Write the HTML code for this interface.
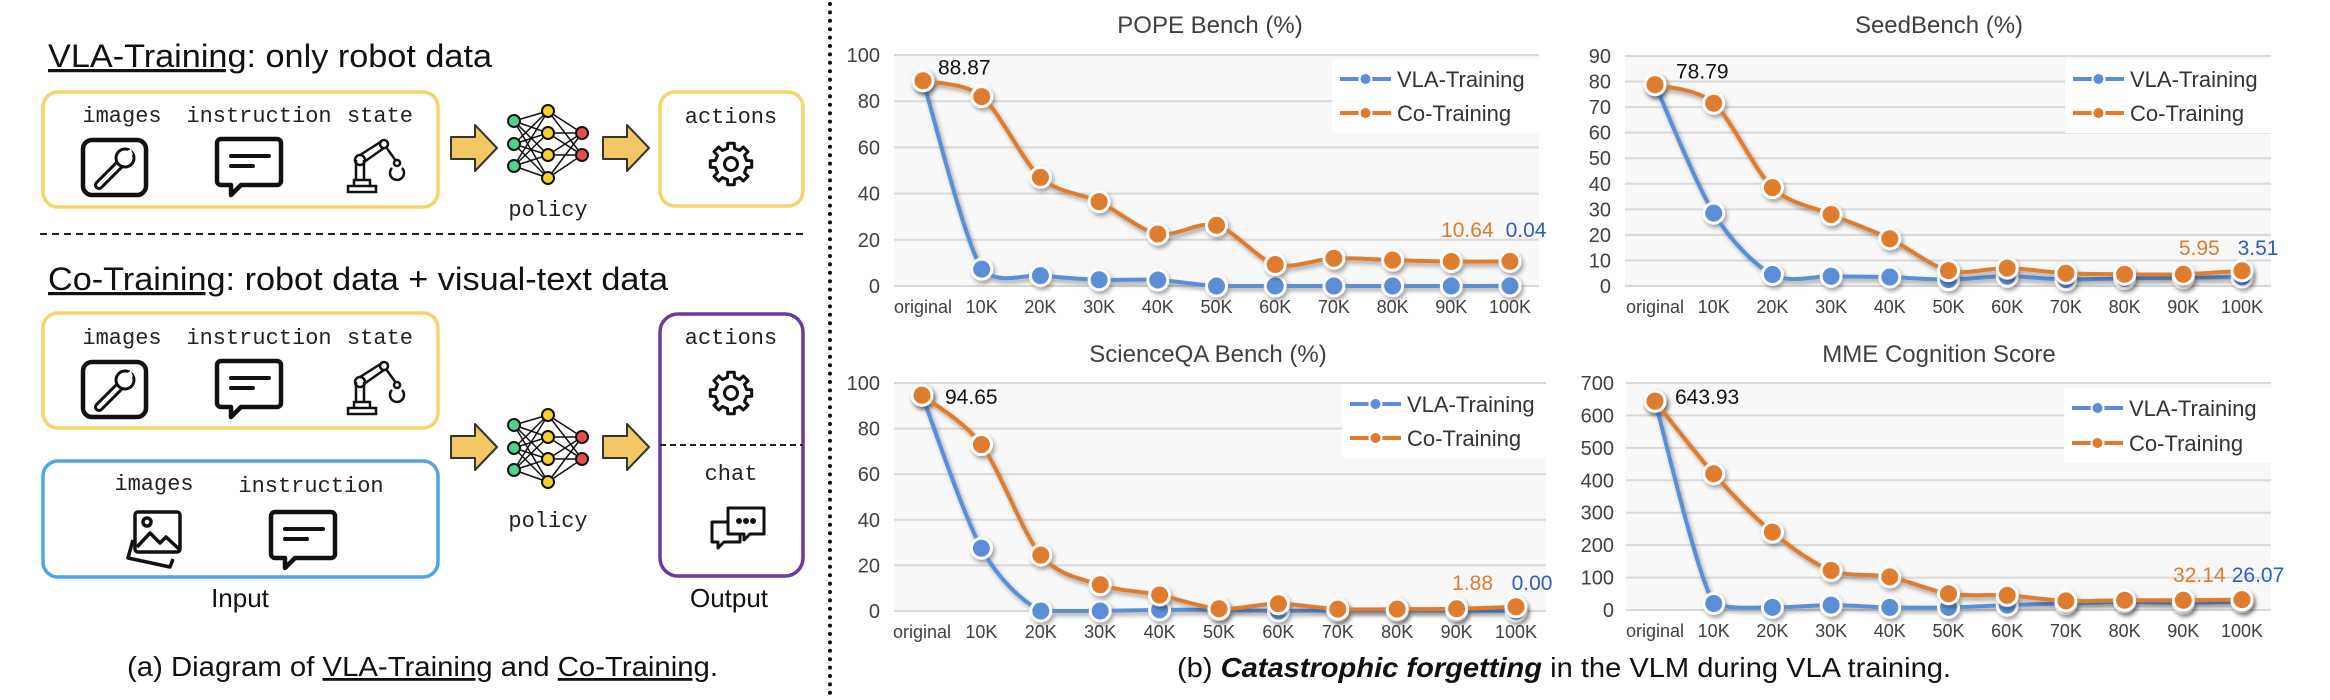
<!DOCTYPE html>
<html><head><meta charset="utf-8"><style>
html,body{margin:0;padding:0;background:#fff;}
svg{display:block;}
.mono{font-family:"Liberation Mono",monospace;font-size:22px;fill:#222;}
.sans{font-family:"Liberation Sans",sans-serif;}
</style></head><body>
<svg id="fig" width="2330" height="700" viewBox="0 0 2330 700" xmlns="http://www.w3.org/2000/svg">
<defs>
<filter id="sh" x="-10%" y="-10%" width="130%" height="130%"><feDropShadow dx="2" dy="3" stdDeviation="2" flood-color="#000" flood-opacity="0.35"/></filter>
<g id="wrench"><rect x="2" y="2" width="63" height="55" rx="9" fill="#fff" stroke="#111" stroke-width="4.5"/>
<path d="M18,47 L40,25" stroke="#111" stroke-width="10" stroke-linecap="round"/><path d="M18,47 L40,25" stroke="#fff" stroke-width="4" stroke-linecap="round"/>
<circle cx="44" cy="20" r="9" fill="#fff" stroke="#111" stroke-width="3"/><path d="M44,14 l6,-3 l2,6 z" fill="#fff"/></g>
<g id="chatb"><path d="M5,2 h56 a4,4 0 0 1 4,4 v38 a4,4 0 0 1 -4,4 h-36 l-10,10 v-10 h-10 a4,4 0 0 1 -4,-4 v-38 a4,4 0 0 1 4,-4 z" fill="#fff" stroke="#111" stroke-width="4.5" stroke-linejoin="round"/>
<path d="M15,19 h38 M15,29 h22" stroke="#111" stroke-width="4" stroke-linecap="round"/></g>
<g id="robot" fill="none" stroke="#111" stroke-width="2.5"><rect x="2" y="50" width="28" height="6"/><path d="M8,50 v-6 h16 v6"/><path d="M10,44 L10,24 M18,44 L18,24"/><circle cx="14" cy="24" r="5"/><path d="M14,19 L36,5 M18,26 L38,12"/><circle cx="38" cy="8" r="4"/><path d="M40,11 L50,25"/><circle cx="51" cy="27" r="3"/><path d="M46,32 a7,7 0 1 0 10,0"/></g>
</defs>

<g>
<text class="sans" x="48" y="67" font-size="32" textLength="444" lengthAdjust="spacingAndGlyphs" fill="#111"><tspan text-decoration="underline">VLA-Training</tspan>: only robot data</text>
<rect x="43" y="92" width="395" height="115" rx="15" fill="#fff" stroke="#F5D46A" stroke-width="3.5"/>
<text class="mono" x="122" y="122" text-anchor="middle">images</text>
<text class="mono" x="259" y="122" text-anchor="middle">instruction</text>
<text class="mono" x="380" y="122" text-anchor="middle">state</text>
<use href="#wrench" x="81" y="138"/>
<use href="#chatb" x="216" y="137"/>
<use href="#robot" x="346" y="136"/>

<rect x="660" y="92" width="143" height="114" rx="15" fill="#fff" stroke="#F5D46A" stroke-width="3.5"/>
<text class="mono" x="731" y="123" text-anchor="middle">actions</text>
<text class="mono" x="548" y="216" text-anchor="middle">policy</text>

<line x1="40" y1="234" x2="806" y2="234" stroke="#222" stroke-width="2" stroke-dasharray="7 5"/>

<text class="sans" x="48" y="290" font-size="32" textLength="620" lengthAdjust="spacingAndGlyphs" fill="#111"><tspan text-decoration="underline">Co-Training</tspan>: robot data + visual-text data</text>
<rect x="43" y="313" width="395" height="115" rx="15" fill="#fff" stroke="#F5D46A" stroke-width="3.5"/>
<text class="mono" x="122" y="344" text-anchor="middle">images</text>
<text class="mono" x="259" y="344" text-anchor="middle">instruction</text>
<text class="mono" x="380" y="344" text-anchor="middle">state</text>
<use href="#wrench" x="81" y="360"/>
<use href="#chatb" x="216" y="359"/>
<use href="#robot" x="346" y="358"/>

<rect x="43" y="461" width="395" height="116" rx="15" fill="#fff" stroke="#4FA3E8" stroke-width="3.5"/>
<text class="mono" x="154" y="490" text-anchor="middle">images</text>
<text class="mono" x="311" y="492" text-anchor="middle">instruction</text>
<g fill="none" stroke="#111" stroke-width="3.5" stroke-linejoin="round">
<path d="M133,540 l-5,18 l42,9 l3,-8"/>
<rect x="135" y="512" width="45" height="40" rx="3" fill="#fff"/>
<path d="M137,547 l13,-14 l10,10 l6,-6 l13,12"/><circle cx="147" cy="522" r="4"/></g>
<use href="#chatb" x="270" y="510"/>

<rect x="660" y="314" width="143" height="262" rx="18" fill="#fff" stroke="#6A3A9C" stroke-width="3.5"/>
<line x1="660" y1="445" x2="803" y2="445" stroke="#222" stroke-width="2" stroke-dasharray="6 4"/>
<text class="mono" x="731" y="344" text-anchor="middle">actions</text>
<text class="mono" x="731" y="480" text-anchor="middle">chat</text>
<g fill="#fff" stroke="#111" stroke-width="3" stroke-linejoin="round">
<path d="M712,522 h28 v20 h-16 l-6,6 v-6 h-6 z"/>
<path d="M728,508 h36 v26 h-14 l-6,6 v-6 h-16 z"/>
<circle cx="739" cy="521" r="1.5" fill="#111"/><circle cx="746" cy="521" r="1.5" fill="#111"/><circle cx="753" cy="521" r="1.5" fill="#111"/></g>
<text class="mono" x="548" y="527" text-anchor="middle">policy</text>

<text class="sans" x="240" y="607" font-size="26" text-anchor="middle" fill="#111">Input</text>
<text class="sans" x="729" y="607" font-size="26" text-anchor="middle" fill="#111">Output</text>
<text class="sans" x="127" y="676" font-size="28" textLength="591" lengthAdjust="spacingAndGlyphs" fill="#111">(a) Diagram of <tspan text-decoration="underline">VLA-Training</tspan> and <tspan text-decoration="underline">Co-Training</tspan>.</text>
<g id="leftdyn"></g>
</g>

<line x1="830" y1="4" x2="830" y2="698" stroke="#111" stroke-width="4" stroke-dasharray="0 8.4" stroke-linecap="round"/>

<g id="charts"></g>
<text class="sans" x="1177" y="677" font-size="28" textLength="774" lengthAdjust="spacingAndGlyphs" fill="#111">(b) <tspan font-weight="bold" font-style="italic">Catastrophic forgetting</tspan> in the VLM during VLA training.</text>
</svg>
<script>
const categories = ['original','10K','20K','30K','40K','50K','60K','70K','80K','90K','100K'];
const popeVLA = [88.87, 7.3, 4.5, 2.7, 2.6, 0, 0, 0, 0, 0, 0.04];
const popeCo = [88.87, 82, 47, 36.5, 22.5, 26.3, 9.3, 12, 11.2, 10.6, 10.64];
const popeTicks = [0, 20, 40, 60, 80, 100];
const seedVLA = [78.79, 28.5, 4.5, 3.8, 3.5, 2.5, 3.8, 2.5, 3.0, 3.2, 3.51];
const seedCo = [78.79, 71.5, 38.5, 28, 18.5, 6, 7, 5, 4.6, 4.6, 5.95];
const seedTicks = [0, 10, 20, 30, 40, 50, 60, 70, 80, 90];
const sqaVLA = [94.65, 27.5, 0, 0, 0.5, 0.5, 0, 0.3, 0.3, 0.2, 0.0];
const sqaCo = [94.65, 73, 24.5, 11.5, 7, 1, 3.2, 0.8, 0.8, 1.0, 1.88];
const sqaTicks = [0, 20, 40, 60, 80, 100];
const mmeVLA = [643.93, 20, 8, 15, 8, 8, 15, 20, 25, 22, 26.07];
const mmeCo = [643.93, 420, 240, 122, 102, 50, 45, 28, 30, 30, 32.14];
const mmeTicks = [0, 100, 200, 300, 400, 500, 600, 700];
const popeLabels = ['88.87', '10.64', '0.04'];
const seedLabels = ['78.79', '5.95', '3.51'];
const sqaLabels = ['94.65', '1.88', '0.00'];
const mmeLabels = ['643.93', '32.14', '26.07'];

const NS = 'http://www.w3.org/2000/svg';
function el(tag, attrs, parent){ const e=document.createElementNS(NS,tag); for(const k in attrs) e.setAttribute(k,attrs[k]); if(parent) parent.appendChild(e); return e; }

const BLUE='#5B8ED8', ORANGE='#E07B2E';

function smoothPath(pts, yLimit){
  let d='M'+pts[0][0]+','+pts[0][1];
  for(let i=0;i<pts.length-1;i++){
    const p0=pts[i-1]||pts[i], p1=pts[i], p2=pts[i+1], p3=pts[i+2]||p2;
    const t=0.15;
    const c1=[p1[0]+(p2[0]-p0[0])*t, Math.min(yLimit, p1[1]+(p2[1]-p0[1])*t)];
    const c2=[p2[0]-(p3[0]-p1[0])*t, Math.min(yLimit, p2[1]-(p3[1]-p1[1])*t)];
    d+=' C'+c1[0]+','+c1[1]+' '+c2[0]+','+c2[1]+' '+p2[0]+','+p2[1];
  }
  return d;
}

function chart(root, L, title, ticks, vla, co, labels, key){
  const g=el('g',{},root);
  
  
  const ymax=ticks[ticks.length-1];
  const yOf=v=>L.y0-(v/ymax)*(L.y0-L.yTop);
  const xOf=i=>L.xFirst+i*(L.xLast-L.xFirst)/(categories.length-1);
  const bg=el('rect',{x:L.gx0,y:L.yTop,width:L.gx1-L.gx0,height:L.y0-L.yTop,fill:'#f8f8f8'},g);
  
  
  const tt=el('text',{x:L.tx,y:L.ty,'font-size':24,'text-anchor':'middle',fill:'#404040','font-family':'Liberation Sans, sans-serif'},g);
  tt.textContent=title;
  
  
  ticks.forEach(t=>{
    const y=yOf(t);
    const gl=el('line',{x1:L.gx0,x2:L.gx1,y1:y,y2:y,stroke:'#d9d9d9','stroke-width':2},g);
    
    
    const tl=el('text',{x:L.ylx,y:y+7,'font-size':20,'text-anchor':'end',fill:'#404040','font-family':'Liberation Sans, sans-serif'},g);
    tl.textContent=t;
    
    
  });
  categories.forEach((c,i)=>{
    const xl=el('text',{x:xOf(i),y:L.y0+27,'font-size':18,'text-anchor':'middle',fill:'#404040','font-family':'Liberation Sans, sans-serif'},g);
    xl.textContent=c;
    
    
  });
  const lg=el('g',{},g);
  
  
  el('rect',{x:L.lx-8,y:L.ly1-20,width:L.gx1-L.lx+8,height:L.ly2-L.ly1+40,fill:'#fff'},lg);
  [[BLUE,'VLA-Training',L.ly1],[ORANGE,'Co-Training',L.ly2]].forEach(([col,name,y])=>{
    const e=el('g',{},lg);
    
    
    el('line',{x1:L.lx,x2:L.lx+51,y1:y,y2:y,stroke:col,'stroke-width':4},e);
    el('circle',{cx:L.lx+25.5,cy:y,r:6,fill:col,stroke:'#fff','stroke-width':2},e);
    const t=el('text',{x:L.lx+57,y:y+8,'font-size':22,fill:'#333','font-family':'Liberation Sans, sans-serif'},e);
    t.textContent=name;
  });
  [[vla,BLUE,'vla'],[co,ORANGE,'co']].forEach(([arr,col,s])=>{
    const pts=arr.map((v,i)=>[xOf(i),yOf(v)]);
    const sg=el('g',{filter:'url(#sh)'},g);
    
    
    el('path',{d:smoothPath(pts, L.y0),fill:'none',stroke:col,'stroke-width':4,'stroke-linejoin':'round'},sg);
    pts.forEach(p=>{
      const c=el('circle',{cx:p[0],cy:p[1],r:10,fill:col,stroke:'#fff','stroke-width':3},sg);
      
      
    });
  });
  const a0=el('text',{x:xOf(0)+L.a0dx,y:yOf(co[0])+L.a0dy,'font-size':21,fill:'#111','font-family':'Liberation Sans, sans-serif'},g);
  a0.textContent=labels[0];
  
  
  const n=categories.length;
  const a1=el('text',{x:xOf(n-2)+16,y:L.endY,'font-size':21,'text-anchor':'middle',fill:ORANGE,'font-family':'Liberation Sans, sans-serif'},g);
  a1.textContent=labels[1];
  
  
  const a2=el('text',{x:xOf(n-1)+16,y:L.endY,'font-size':21,'text-anchor':'middle',fill:'#2E5FB8','font-family':'Liberation Sans, sans-serif'},g);
  a2.textContent=labels[2];
  
  
}

const root=document.getElementById('charts');
chart(root,{gx0:894,gx1:1539,yTop:55,y0:286,xFirst:923,xLast:1510,ylx:880,tx:1210,ty:33,lx:1340,ly1:79,ly2:113,a0dx:15,a0dy:-6,endY:237},'POPE Bench (%)',popeTicks,popeVLA,popeCo,popeLabels,'pope');
chart(root,{gx0:1625,gx1:2271,yTop:56,y0:286,xFirst:1655,xLast:2242,ylx:1611,tx:1939,ty:33,lx:2073,ly1:79,ly2:113,a0dx:21,a0dy:-6,endY:255},'SeedBench (%)',seedTicks,seedVLA,seedCo,seedLabels,'seed');
chart(root,{gx0:894,gx1:1546,yTop:383,y0:611,xFirst:922,xLast:1516,ylx:880,tx:1208,ty:362,lx:1350,ly1:404,ly2:438,a0dx:23,a0dy:9,endY:590},'ScienceQA Bench (%)',sqaTicks,sqaVLA,sqaCo,sqaLabels,'scienceqa');
chart(root,{gx0:1626,gx1:2271,yTop:383,y0:610,xFirst:1655,xLast:2242,ylx:1614,tx:1939,ty:362,lx:2072,ly1:408,ly2:443,a0dx:20,a0dy:3,endY:582},'MME Cognition Score',mmeTicks,mmeVLA,mmeCo,mmeLabels,'mme');

const ld=document.getElementById('leftdyn');
function arrow(x,yc,name){
  const p=el('path',{d:`M${x},${yc-11} h24 v-12 l22,23 l-22,23 v-12 h-24 z`,fill:'#F2C864',stroke:'#333','stroke-width':2,'stroke-linejoin':'round'},ld);
  
  
}
arrow(451,148,'arrow-in-1'); arrow(603,148,'arrow-out-1');
arrow(451,447,'arrow-in-2'); arrow(603,447,'arrow-out-2');
function net(cx,cy,name){
  const g=el('g',{},ld);
  
  
  const L=[[-34,-23],[-34,0],[-34,22]], M=[[0,-33],[0,-11],[0,11],[0,34]], R=[[34,-11],[34,11]];
  L.forEach(a=>M.forEach(b=>el('line',{x1:cx+a[0],y1:cy+a[1],x2:cx+b[0],y2:cy+b[1],stroke:'#111','stroke-width':1.5},g)));
  M.forEach(a=>R.forEach(b=>el('line',{x1:cx+a[0],y1:cy+a[1],x2:cx+b[0],y2:cy+b[1],stroke:'#111','stroke-width':1.5},g)));
  L.forEach(a=>el('circle',{cx:cx+a[0],cy:cy+a[1],r:6,fill:'#4DD38C',stroke:'#111','stroke-width':2},g));
  M.forEach(a=>el('circle',{cx:cx+a[0],cy:cy+a[1],r:6,fill:'#F5D132',stroke:'#111','stroke-width':2},g));
  R.forEach(a=>el('circle',{cx:cx+a[0],cy:cy+a[1],r:6,fill:'#E84B4B',stroke:'#111','stroke-width':2},g));
}
net(548,144,'policy-network-1'); net(548,448,'policy-network-2');
function gear(cx,cy,name){
  const g=el('g',{},ld);
  
  
  let pts=[];
  for(let i=0;i<8;i++){
    const a=i*Math.PI/4;
    [[-0.22,16],[-0.16,21],[0.16,21],[0.22,16]].forEach(([da,r])=>pts.push((cx+r*Math.cos(a+da)).toFixed(1)+','+(cy+r*Math.sin(a+da)).toFixed(1)));
  }
  el('polygon',{points:pts.join(' '),fill:'#fff',stroke:'#111','stroke-width':3,'stroke-linejoin':'round'},g);
  el('circle',{cx:cx,cy:cy,r:6.5,fill:'#fff',stroke:'#111','stroke-width':3},g);
}
gear(731,164,'actions-gear-1'); gear(731,393,'actions-gear-2');
</script>
</body></html>
